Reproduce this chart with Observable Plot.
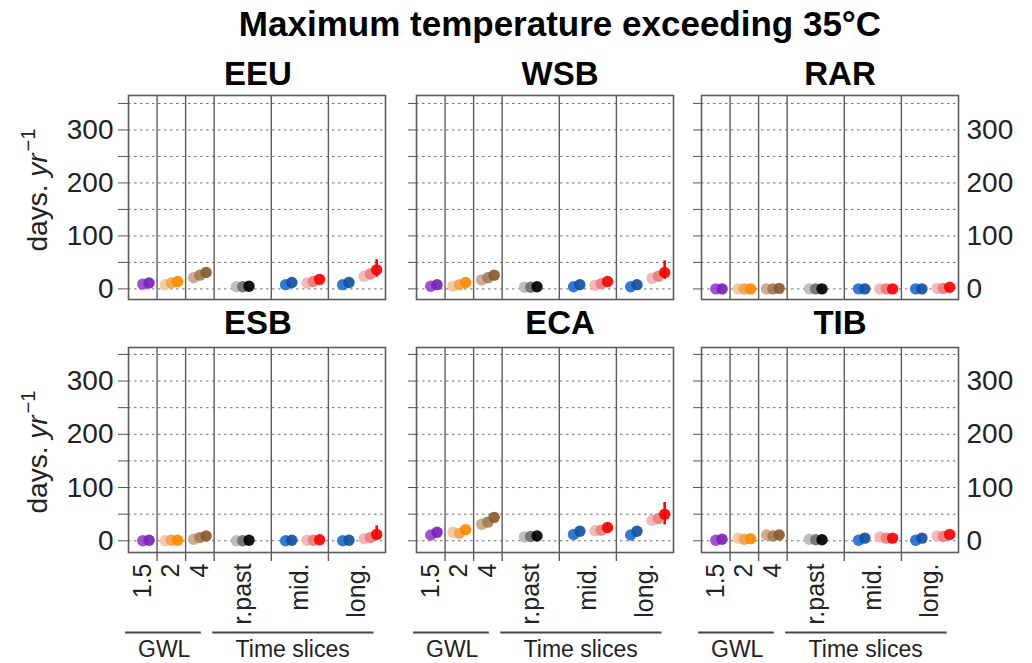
<!DOCTYPE html>
<html>
<head>
<meta charset="utf-8">
<script src="https://cdn.jsdelivr.net/npm/d3@7"></script>
<script src="https://cdn.jsdelivr.net/npm/@observablehq/plot@0.6"></script>
<style>
  body { margin: 0; background: #fff; font-family: "Liberation Sans", Arial, sans-serif; }
  #fig { position: relative; width: 1032px; height: 663px; overflow: hidden; background: #fff; }
  .lbl { position: absolute; white-space: nowrap; transform: translate(-50%, -50%); line-height: 1; color: #000; }
  .ttl { font-weight: bold; }
  .ylab { position: absolute; white-space: nowrap; line-height: 1; color: #222;
          transform: translate(-50%, -50%) rotate(-90deg); }
  .panel { position: absolute; }
</style>
</head>
<body>
<div id="fig"></div>
<script>
// Maximum temperature exceeding 35°C — days per year, by region.
const title = "Maximum temperature exceeding 35°C";
const regions = ["EEU", "WSB", "RAR", "ESB", "ECA", "TIB"];

// Columns along the x axis: three warming levels, then three time slices.
const columnLabels = ["1.5", "2", "4", "r.past", "mid.", "long."];
const groupLabels = ["GWL", "Time slices"];

// Dot groups inside the columns (each group holds up to three ensembles,
// drawn light → dark).
const dotGroups = ["1.5", "2", "4", "r.past", "mid. low", "mid. high", "long. low", "long. high"];
const shades = [
  [null, "#9d3fd6", "#7a22b5"],          // GWL 1.5
  ["#f5c597", "#f3a24a", "#ff8a00"],     // GWL 2
  ["#c8a685", "#a37c57", "#8a5a2c"],     // GWL 4
  ["#b9b9b9", "#6f6f6f", "#000000"],     // recent past
  [null, "#1e6fd6", "#12509c"],          // mid, low scenario
  ["#f5b3b3", "#f07a7a", "#ff0000"],     // mid, high scenario
  [null, "#1e6fd6", "#12509c"],          // long, low scenario
  ["#f5b3b3", "#f07a7a", "#ff0000"]      // long, high scenario
];

// Values (days/yr) per region: one row per dot group, one entry per ensemble.
const EEU = [[null, 9, 11], [8, 11, 14], [21, 26, 31], [4, 4, 5], [null, 8, 12], [11, 14, 18], [null, 8, 12], [24, 28, 36]];
const WSB = [[null, 5, 8], [5, 8, 12], [17, 21, 26], [3, 3, 4], [null, 4, 8], [7, 10, 14], [null, 4, 8], [20, 24, 31]];
const RAR = [[null, 0, 0], [0, 0, 0], [0, 0, 1], [0, 0, 0], [null, 0, 0], [0, 0, 0], [null, 0, 0], [1, 1, 3]];
const ESB = [[null, 0, 1], [0, 1, 1], [3, 6, 9], [0, 0, 1], [null, 0, 1], [1, 1, 2], [null, 0, 1], [4, 6, 12]];
const ECA = [[null, 11, 16], [16, 14, 21], [31, 35, 44], [7, 8, 9], [null, 12, 18], [19, 20, 25], [null, 11, 18], [38, 42, 50]];
const TIB = [[null, 1, 3], [5, 3, 4], [11, 9, 11], [3, 2, 2], [null, 1, 5], [7, 5, 5], [null, 1, 5], [9, 8, 12]];
const regionValues = [EEU, WSB, RAR, ESB, ECA, TIB];

// Spread of the darkest high-scenario ensemble (mid, long); null where none is shown.
const midRange = [null, null, null, null, [17, 33], null];
const longRange = [[22, 55], [18, 53], null, [3, 28], [30, 72], null];

// Y axis ticks.
const gridTicks = [0, 50, 100, 150, 200, 250, 300, 350];
const labelTicks = [0, 100, 200, 300];

// ---- layout of the columns in x units ----
const colStart = [0, 1, 2, 3, 5, 7];
const colWidth = [1, 1, 1, 2, 2, 2];
const colCenter = colStart.map((s, i) => s + colWidth[i] / 2);
const bounds = colStart.slice(1);
const groupCenter = [0.5, 1.5, 2.5, 4.0, 5.5, 6.47, 7.5, 8.47];
const slotStep = 0.22;
const groupSpan = [[-0.1, 2.55], [2.95, 8.6]];
const groupMid = [1.25, 5.75];

function dotsFor(values) {
  const out = [];
  values.forEach((slots, g) => {
    slots.forEach((v, s) => {
      if (v == null) return;
      out.push({group: dotGroups[g], x: groupCenter[g] + (s - 1) * slotStep, y: v, fill: shades[g][s]});
    });
  });
  return out;
}

function rangesFor(i) {
  const out = [];
  if (midRange[i]) out.push({x: groupCenter[5] + slotStep, lo: midRange[i][0], hi: midRange[i][1]});
  if (longRange[i]) out.push({x: groupCenter[7] + slotStep, lo: longRange[i][0], hi: longRange[i][1]});
  return out;
}

// ---- page geometry ----
const fig = document.getElementById("fig");
const frameX = [128, 416, 701];
const frameY = [95, 347];
const FW = 257;
const FH = [204, 205];
const yDom = [[-20, 365], [-22, 363]];
const titleX = [258, 560, 840];
const titleY = [73, 322];

function addLabel(html, x, y, cls, size) {
  const d = document.createElement("div");
  d.className = cls;
  d.style.left = x + "px";
  d.style.top = y + "px";
  d.style.fontSize = size + "px";
  d.innerHTML = html;
  fig.appendChild(d);
  return d;
}

addLabel(title, 560, 23, "lbl ttl", 35);

regions.forEach((name, i) => {
  const c = i % 3, r = Math.floor(i / 3);
  const mL = c === 0 ? 80 : 14;
  const mR = c === 2 ? 75 : 4;
  const mT = 4;
  const mB = r === 1 ? 111 : 6;
  const yMin = yDom[r][0];

  const marks = [
    Plot.gridY(gridTicks, {stroke: "#6e6e6e", strokeOpacity: 1, strokeDasharray: "2.5,3.5", strokeWidth: 1}),
    Plot.ruleX(bounds, {stroke: "#5c5c5c", strokeWidth: 1.4}),
    Plot.frame({stroke: "#5c5c5c", strokeWidth: 1.6}),
    Plot.axisY({
      ticks: gridTicks, tickSize: c === 0 ? 10 : 8, tickPadding: 5, stroke: "#555",
      tickFormat: d => (c === 0 && d % 100 === 0) ? String(d) : "",
      fontSize: 28, label: null
    })
  ];
  if (c === 2) {
    marks.push(Plot.axisY({anchor: "right", ticks: labelTicks, tickSize: 0, tickPadding: 8, fontSize: 28, label: null}));
  }
  if (r === 1) {
    marks.push(
      Plot.axisX({ticks: bounds, tickSize: 9, tickFormat: () => "", stroke: "#5c5c5c", strokeWidth: 1.4, label: null}),
      Plot.text(columnLabels, {
        x: (d, k) => colCenter[k], frameAnchor: "bottom", rotate: -90,
        textAnchor: "end", lineAnchor: "middle", dy: 11, fontSize: 25, fill: "#222"
      }),
      Plot.ruleY(groupSpan, {y: () => yMin, x1: d => d[0], x2: d => d[1], dy: 80, stroke: "#444", strokeWidth: 2}),
      Plot.text(groupLabels, {x: (d, k) => groupMid[k], y: () => yMin, dy: 97, fontSize: 23, fill: "#222", lineAnchor: "middle"})
    );
  }
  marks.push(
    Plot.ruleX(rangesFor(i), {x: "x", y1: "lo", y2: "hi", stroke: "#ff0000", strokeWidth: 2.6}),
    Plot.dot(dotsFor(regionValues[i]), {x: "x", y: "y", fill: "fill", r: 5.7, fillOpacity: 0.92, stroke: "none"})
  );

  const chart = Plot.plot({
    width: mL + FW + mR,
    height: mT + FH[r] + mB,
    marginLeft: mL, marginRight: mR, marginTop: mT, marginBottom: mB,
    x: {domain: [0, 9], axis: null},
    y: {domain: yDom[r], axis: null},
    style: {fontFamily: "'Liberation Sans', Arial, sans-serif", color: "#222", background: "transparent", overflow: "visible"},
    marks
  });
  chart.classList.add("panel");
  chart.style.left = (frameX[c] - mL) + "px";
  chart.style.top = (frameY[r] - mT) + "px";
  fig.appendChild(chart);

  addLabel(name, titleX[c], titleY[r], "lbl ttl", 33);
});

// Shared y-axis titles on the left of each row.
const yTitle = "days. <i>yr</i><sup style=\"font-size:0.72em;vertical-align:0.6em;margin-left:2px\">\u22121</sup>";
addLabel(yTitle, 35, 190, "ylab", 28);
addLabel(yTitle, 35, 452, "ylab", 28);
</script>
</body>
</html>
